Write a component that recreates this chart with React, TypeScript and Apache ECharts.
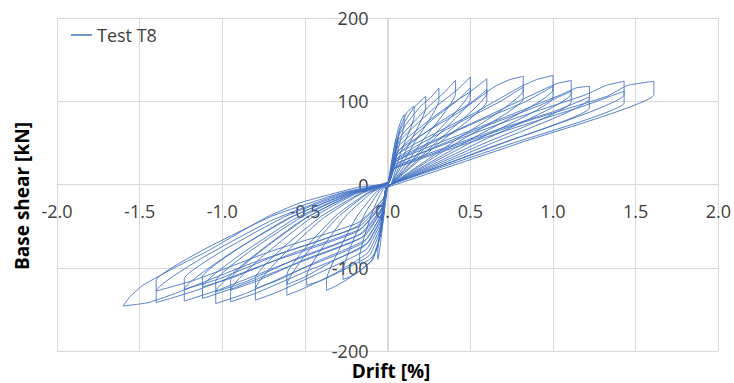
import React, { useEffect, useRef } from "react";
import * as echarts from "echarts";

type Pt = [number, number];

// Drift [%] vs Base shear [kN], one array per loading cycle
const loop01: Pt[] = [[0,0],[0.02,22],[0.04,46],[0.05,55],[0.05,48],[0.03,26],[0.005,2],[-0.015,-22],[-0.03,-46],[-0.04,-58],[-0.04,-52],[-0.025,-26],[-0.008,-5]];
const loop02: Pt[] = [[0.005,3],[0.03,34],[0.06,64],[0.085,79],[0.10,84],[0.10,73],[0.06,40],[0.02,8],[0.0,-2],[-0.02,-32],[-0.04,-65],[-0.052,-83],[-0.06,-90],[-0.06,-81],[-0.045,-52],[-0.025,-24],[-0.01,-6]];
const loop03: Pt[] = [[0.005,3],[0.07,65],[0.115,86],[0.144,92],[0.16,94],[0.16,82],[0.08,39],[0.02,0],[-0.01,-4],[-0.04,-55],[-0.07,-80],[-0.11,-90],[-0.148,-94],[-0.17,-95],[-0.17,-86],[-0.136,-59],[-0.085,-29],[-0.034,-8]];
const loop04: Pt[] = [[0.005,3],[0.075,65],[0.153,91],[0.202,101],[0.23,106],[0.23,92],[0.115,43],[0.02,0],[-0.01,-4],[-0.045,-62],[-0.09,-90],[-0.163,-103],[-0.231,-111],[-0.27,-114],[-0.27,-103],[-0.216,-71],[-0.135,-34],[-0.054,-9]];
const loop05: Pt[] = [[0.005,3],[0.07,60],[0.19,92],[0.267,106],[0.31,116],[0.31,101],[0.155,48],[0.02,0],[-0.01,-4],[-0.045,-60],[-0.1,-92],[-0.213,-110],[-0.313,-122],[-0.37,-127],[-0.37,-114],[-0.296,-79],[-0.185,-38],[-0.074,-10]];
const loop06: Pt[] = [[0.005,3],[0.07,55],[0.24,92],[0.349,112],[0.41,125],[0.41,109],[0.205,51],[0.02,0],[-0.01,-4],[-0.04,-52],[-0.11,-85],[-0.27,-103],[-0.41,-116],[-0.49,-121],[-0.49,-109],[-0.392,-75],[-0.245,-36],[-0.098,-10]];
const loop07: Pt[] = [[0.005,3],[0.065,50],[0.283,92],[0.422,114],[0.50,129],[0.50,112],[0.25,53],[0.02,0],[-0.01,-4],[-0.04,-48],[-0.12,-82],[-0.33,-108],[-0.51,-125],[-0.61,-133],[-0.61,-120],[-0.488,-82],[-0.305,-40],[-0.122,-11]];
const loop07b: Pt[] = [[0.005,2],[0.065,40],[0.283,80],[0.422,101],[0.50,116],[0.50,102],[0.25,49],[0.02,0],[-0.01,-4],[-0.04,-40],[-0.12,-70],[-0.33,-92],[-0.51,-112],[-0.61,-120],[-0.61,-108],[-0.488,-74],[-0.305,-36],[-0.122,-10]];
const loop08: Pt[] = [[0.005,3],[0.06,45],[0.33,89],[0.503,112],[0.60,127],[0.60,110],[0.30,52],[0.02,0],[-0.01,-4],[-0.035,-42],[-0.13,-78],[-0.423,-107],[-0.664,-129],[-0.80,-139],[-0.80,-125],[-0.64,-86],[-0.40,-42],[-0.16,-11]];
const loop08b: Pt[] = [[0.005,2],[0.06,36],[0.33,77],[0.503,98],[0.60,114],[0.60,100],[0.30,48],[0.02,0],[-0.01,-4],[-0.035,-34],[-0.13,-66],[-0.423,-92],[-0.664,-115],[-0.80,-125],[-0.80,-112],[-0.64,-77],[-0.40,-38],[-0.16,-10]];
const loop09: Pt[] = [[0.005,3],[0.06,40],[0.44,88],[0.65,118],[0.74,126],[0.82,130],[0.82,113],[0.41,53],[0.02,0],[-0.01,-4],[-0.035,-38],[-0.14,-74],[-0.50,-105],[-0.791,-130],[-0.95,-141],[-0.95,-127],[-0.76,-87],[-0.475,-42],[-0.19,-11]];
const loop09b: Pt[] = [[0.005,2],[0.06,32],[0.44,75],[0.683,100],[0.82,117],[0.82,103],[0.41,49],[0.02,0],[-0.01,-4],[-0.035,-30],[-0.14,-62],[-0.50,-90],[-0.791,-116],[-0.95,-127],[-0.95,-114],[-0.76,-79],[-0.475,-38],[-0.19,-10]];
const loop10: Pt[] = [[0.005,3],[0.05,35],[0.525,86],[0.80,117],[0.90,126],[1.00,131],[1.00,114],[0.50,54],[0.02,0],[-0.01,-4],[-0.03,-33],[-0.15,-70],[-0.54,-103],[-0.86,-131],[-1.04,-143],[-1.04,-129],[-0.832,-89],[-0.52,-43],[-0.208,-11]];
const loop10b: Pt[] = [[0.005,2],[0.05,28],[0.525,74],[0.829,99],[1.00,118],[1.00,104],[0.50,50],[0.02,0],[-0.01,-4],[-0.03,-27],[-0.15,-58],[-0.54,-88],[-0.86,-117],[-1.04,-129],[-1.04,-116],[-0.832,-80],[-0.52,-39],[-0.208,-10]];
const loop11: Pt[] = [[0.005,3],[0.05,30],[0.58,80],[0.92,112],[1.02,121],[1.11,125],[1.11,109],[0.555,51],[0.02,0],[-0.01,-4],[-0.03,-29],[-0.16,-64],[-0.58,-97],[-0.926,-124],[-1.12,-137],[-1.12,-123],[-0.896,-85],[-0.56,-41],[-0.224,-11]];
const loop11b: Pt[] = [[0.005,2],[0.05,24],[0.58,69],[0.919,95],[1.11,112],[1.11,99],[0.555,47],[0.02,0],[-0.01,-4],[-0.03,-23],[-0.16,-53],[-0.58,-83],[-0.926,-111],[-1.12,-123],[-1.12,-111],[-0.896,-76],[-0.56,-37],[-0.224,-10]];
const loop12: Pt[] = [[0.005,3],[0.05,28],[0.635,75],[1.05,108],[1.14,116],[1.22,118],[1.22,103],[0.61,48],[0.02,0],[-0.01,-4],[-0.025,-25],[-0.17,-60],[-0.633,-96],[-1.015,-126],[-1.23,-140],[-1.23,-126],[-0.984,-87],[-0.615,-42],[-0.246,-11]];
const loop12b: Pt[] = [[0.005,2],[0.05,22],[0.635,64],[1.009,88],[1.22,105],[1.22,92],[0.61,44],[0.02,0],[-0.01,-4],[-0.025,-20],[-0.17,-50],[-0.633,-82],[-1.015,-113],[-1.23,-126],[-1.23,-113],[-0.984,-78],[-0.615,-38],[-0.246,-10]];
const loop13: Pt[] = [[0.005,3],[0.04,24],[0.735,77],[1.2,108],[1.32,119],[1.43,124],[1.43,108],[0.715,51],[0.02,0],[-0.01,-4],[-0.025,-21],[-0.18,-56],[-0.718,-94],[-1.155,-127],[-1.40,-142],[-1.40,-128],[-1.12,-88],[-0.70,-43],[-0.28,-11]];
const loop13b: Pt[] = [[0.005,2],[0.04,19],[0.735,66],[1.18,94],[1.43,112],[1.43,98],[0.715,47],[0.02,0],[-0.01,-4],[-0.025,-17],[-0.18,-46],[-0.718,-81],[-1.155,-114],[-1.40,-128],[-1.40,-115],[-1.12,-79],[-0.70,-38],[-0.28,-10]];
const loop14: Pt[] = [[0.005,3],[0.04,20],[0.825,75],[1.327,106],[1.45,119],[1.61,124],[1.61,108],[0.80,50],[0.02,-2],[-0.01,-4],[-0.02,-16],[-0.2,-52],[-0.815,-94],[-1.3,-132],[-1.45,-142],[-1.60,-146],[-1.56,-135],[-1.48,-121],[-1.28,-99],[-1.08,-79],[-0.9,-58],[-0.73,-39],[-0.53,-22],[-0.17,-3],[0,0]];

const loops: Pt[][] = [loop01, loop02, loop03, loop04, loop05, loop06, loop07, loop07b, loop08, loop08b, loop09, loop09b, loop10, loop10b, loop11, loop11b, loop12, loop12b, loop13, loop13b, loop14];

const seriesName = "Test T8";
const xTitle = "Drift [%]";
const yTitle = "Base shear [kN]";

const FONT = '"Open Sans", "Noto Sans", sans-serif';
const GRID = "#d9d9d9";
const TXT = "#404040";

export default function App() {
  const ref = useRef<HTMLDivElement>(null);
  useEffect(() => {
    if (!ref.current) return;
    const chart = echarts.init(ref.current, null, { renderer: "svg" });
    const data = loops.flat();
    const gridLeft = 57, gridRight = 14, gridTop = 18, gridBottom = 32;
    const plotW = 734 - gridLeft - gridRight;
    const plotH = 383 - gridTop - gridBottom;
    chart.setOption({
      animation: false,
      backgroundColor: "#ffffff",
      grid: { left: gridLeft, right: gridRight, top: gridTop, bottom: gridBottom },
      legend: {
        left: 66,
        top: 21,
        icon: "rect",
        itemWidth: 21,
        itemHeight: 1.5,
        itemGap: 10,
        textStyle: { fontFamily: FONT, fontSize: 18, color: TXT },
        data: [seriesName],
      },
      xAxis: {
        type: "value",
        min: -2,
        max: 2,
        interval: 0.5,
        position: "bottom",
        offset: -plotH / 2,
        axisLine: { show: true, onZero: false, lineStyle: { color: GRID, width: 1 } },
        axisTick: { show: false },
        axisLabel: {
          fontFamily: FONT,
          fontSize: 18,
          color: TXT,
          margin: 17,
          formatter: (v: number) => v.toFixed(1),
        },
        splitLine: { show: true, lineStyle: { color: GRID, width: 1 } },
      },
      yAxis: {
        type: "value",
        min: -200,
        max: 200,
        interval: 100,
        position: "left",
        offset: -plotW / 2,
        axisLine: { show: true, onZero: false, lineStyle: { color: GRID, width: 1 } },
        axisTick: { show: false },
        axisLabel: { fontFamily: FONT, fontSize: 18, color: TXT, margin: 20 },
        splitLine: { show: true, lineStyle: { color: GRID, width: 1 } },
      },
      graphic: [
        {
          type: "text",
          x: 22,
          y: 196,
          rotation: Math.PI / 2,
          style: {
            text: yTitle,
            fontFamily: FONT,
            fontSize: 19,
            fontWeight: "bold",
            fill: "#000",
            align: "center",
            verticalAlign: "middle",
          },
        },
        {
          type: "text",
          x: 391,
          y: 371,
          style: {
            text: xTitle,
            fontFamily: FONT,
            fontSize: 19,
            fontWeight: "bold",
            fill: "#000",
            align: "center",
            verticalAlign: "middle",
          },
        },
      ],
      series: [
        {
          name: seriesName,
          type: "line",
          data,
          showSymbol: false,
          symbol: "none",
          smooth: 0.15,
          color: "#4472C4",
          lineStyle: { color: "#4472C4", width: 1, opacity: 0.9 },
        },
      ],
    });
    return () => chart.dispose();
  }, []);
  return (
    <div
      ref={ref}
      style={{ position: "fixed", left: 0, top: 0, width: 734, height: 383 }}
    />
  );
}
